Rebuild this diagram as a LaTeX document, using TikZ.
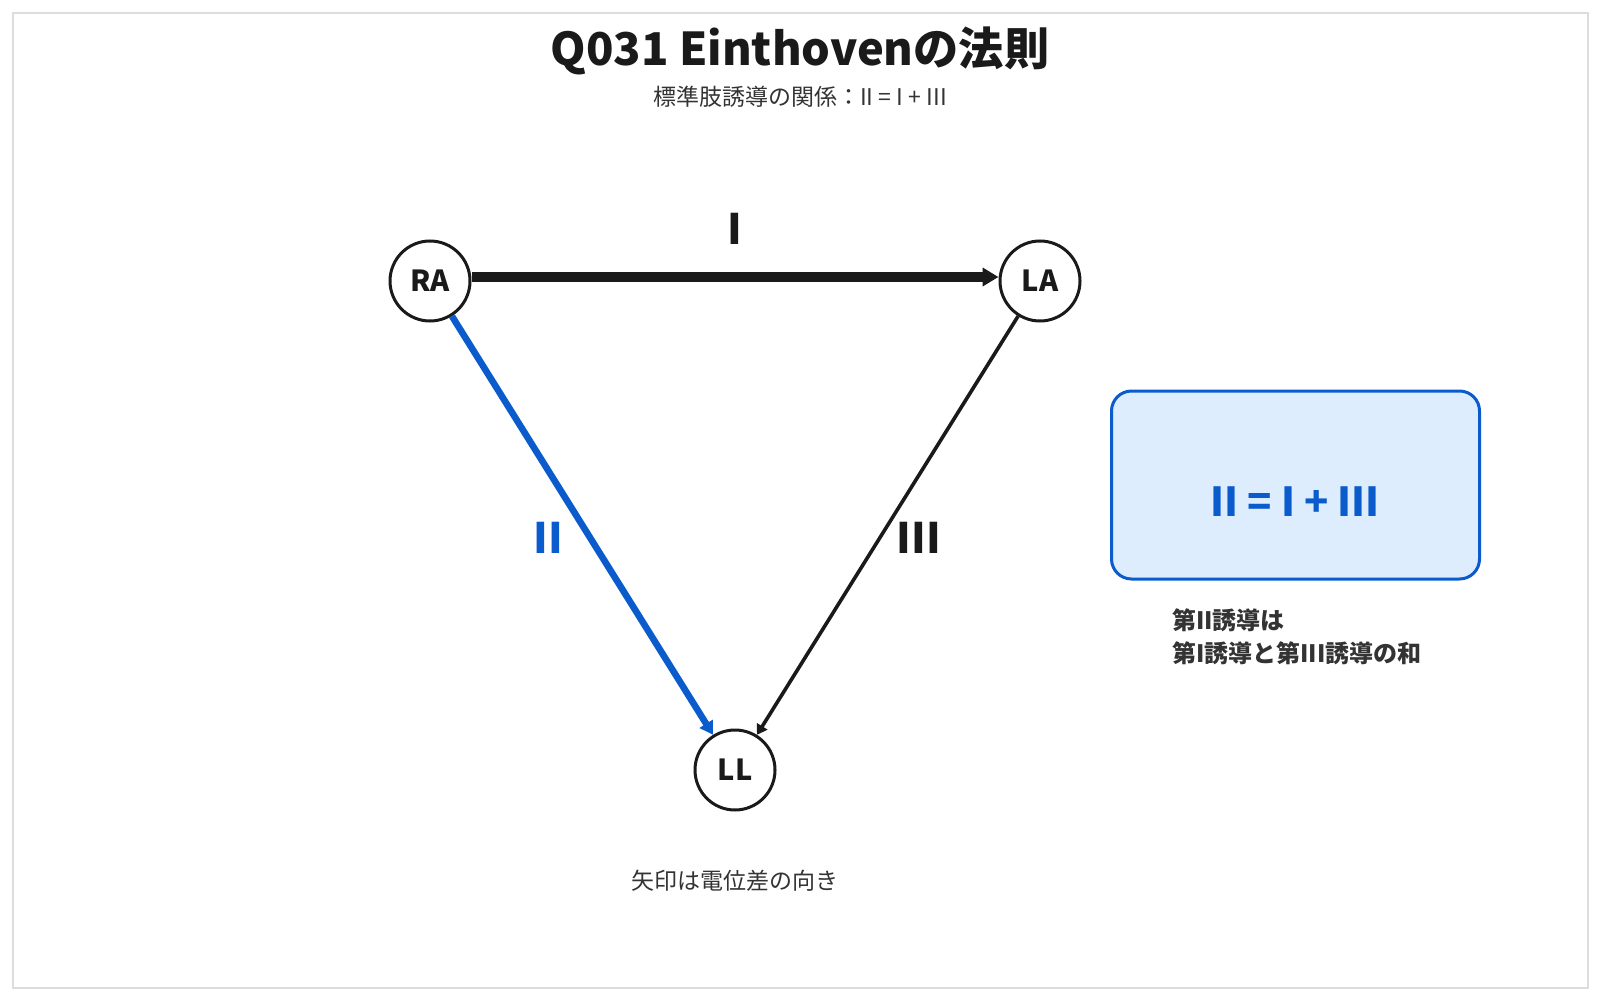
\documentclass[tikz,border=0pt]{standalone}
\usepackage{fontspec}
\setmainfont{Noto Sans CJK JP}
\usetikzlibrary{arrows.meta}
\definecolor{ink}{HTML}{1A1A1A}
\definecolor{sub}{HTML}{333333}
\definecolor{lead}{HTML}{0A5BCB}
\definecolor{boxfill}{HTML}{DDEDFD}
\definecolor{frame}{HTML}{DDDDDD}
\tikzset{
  electrode/.style={circle, draw=ink, line width=1.5pt, fill=white, minimum size=40pt, inner sep=0pt, font=\fontsize{14.5}{17}\selectfont\bfseries, text=ink},
  leadlabel/.style={font=\fontsize{21}{25}\selectfont\bfseries},
}
\begin{document}
\begin{tikzpicture}[x=0.5pt,y=-0.5pt]
\useasboundingbox (0,0) rectangle (1600,1000);
\draw[frame, line width=1pt] (13,13) rectangle (1588,988);
\node[font=\fontsize{22.6}{27}\selectfont\bfseries, text=ink] (title) at (800,51) {Q031 Einthovenの法則};
\node[font=\fontsize{11.5}{14}\selectfont, text=sub] (subtitle) at (800,97) {標準肢誘導の関係：II = I + III};
\node[electrode] (RA) at (430,281) {RA};
\node[electrode] (LA) at (1040,281) {LA};
\node[electrode] (LL) at (735,770) {LL};
\draw[ink, line width=4.5pt, -{Triangle[length=8pt,width=9pt]}] ([yshift=2pt]RA.east) -- ([yshift=2pt]LA.west);
\draw[lead, line width=3.3pt, -{Triangle[length=6.5pt,width=7.5pt]}] (RA) -- (LL);
\draw[ink, line width=1.8pt, -{Triangle[length=5pt,width=6pt]}] (LA) -- (LL);
\node[leadlabel, text=ink] (lI) at (735,229) {I};
\node[leadlabel, text=lead] (lII) at (548,538) {II};
\node[leadlabel, text=ink] (lIII) at (919,538) {III};
\node[draw=lead, line width=1.5pt, fill=boxfill, rounded corners=10pt, minimum width=184pt, minimum height=94pt] (box) at (1295.5,485) {};
\node[font=\fontsize{20}{24}\selectfont\bfseries, text=lead] (formula) at (1295,502) {II = I + III};
\node[font=\fontsize{12}{16.5}\selectfont\bfseries, text=sub, align=left, anchor=west] (caption) at (1165,636.5) {第II誘導は\\第I誘導と第III誘導の和};
\node[font=\fontsize{11.5}{14}\selectfont, text=sub] (note) at (735,881) {矢印は電位差の向き};
\end{tikzpicture}
\end{document}
